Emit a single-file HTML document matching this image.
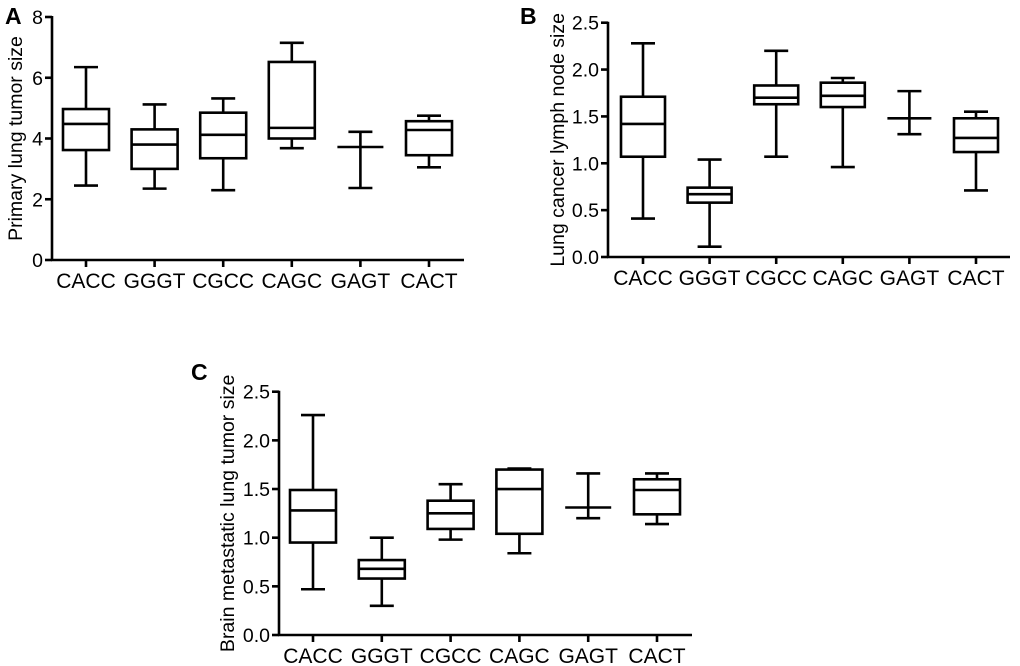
<!DOCTYPE html>
<html><head><meta charset="utf-8"><style>
body{margin:0;background:#fff;}
svg{display:block;font-family:"Liberation Sans",Arial,sans-serif;}
</style></head><body>
<svg id="chart" width="1020" height="666" viewBox="0 0 1020 666"></svg>
<script>
const categories = ["CACC","GGGT","CGCC","CAGC","GAGT","CACT"];
// each series: [whiskerLow, q1, median, q3, whiskerHigh]; q1/q3 null => no box
const seriesA = [[2.45,3.62,4.48,4.97,6.35],[2.35,3.0,3.8,4.3,5.12],[2.3,3.35,4.12,4.85,5.32],[3.68,4.0,4.35,6.52,7.15],[2.37,null,3.72,null,4.22],[3.05,3.45,4.28,4.57,4.75]];
const seriesB = [[0.41,1.07,1.42,1.71,2.28],[0.11,0.58,0.67,0.74,1.04],[1.07,1.63,1.7,1.83,2.2],[0.96,1.6,1.72,1.86,1.91],[1.31,null,1.48,null,1.77],[0.71,1.12,1.27,1.48,1.55]];
const seriesC = [[0.47,0.95,1.28,1.49,2.26],[0.3,0.58,0.68,0.77,1.0],[0.98,1.09,1.25,1.38,1.55],[0.84,1.04,1.5,1.7,1.71],[1.2,null,1.31,null,1.66],[1.14,1.24,1.49,1.6,1.66]];
const ticksA = [0,2,4,6,8];
const ticksB = [0.0,0.5,1.0,1.5,2.0,2.5];
const ticksC = [0.0,0.5,1.0,1.5,2.0,2.5];

const NS="http://www.w3.org/2000/svg";
const svg=document.getElementById('chart');
function mk(tag,attrs,parent,text){const e=document.createElementNS(NS,tag);for(const k in attrs)e.setAttribute(k,attrs[k]);if(text!==undefined)e.textContent=text;(parent||svg).appendChild(e);return e;}

function panel(cfg){
  const g=mk('g',{});
  
  
  const y=v=>cfg.y0-(v-cfg.vmin)/(cfg.vmax-cfg.vmin)*(cfg.y0-cfg.yTop);
  const x=i=>cfg.xFirst+i*cfg.dx;
  const sw=2.6;
  const L=mk('text',{x:cfg.lx,y:cfg.ly,'font-size':23,'font-weight':'bold'},g,cfg.letter);
  
  
  const ya=mk('line',{x1:cfg.ax,y1:y(cfg.vmax)-1,x2:cfg.ax,y2:cfg.y0+1,stroke:'#000','stroke-width':sw},g);
  
  
  const xa=mk('line',{x1:cfg.ax-1,y1:cfg.y0,x2:cfg.xEnd,y2:cfg.y0,stroke:'#000','stroke-width':sw},g);
  
  
  cfg.ticks.forEach(t=>{
    mk('line',{x1:cfg.ax-7,y1:y(t),x2:cfg.ax,y2:y(t),stroke:'#000','stroke-width':sw},g);
    const tl=mk('text',{x:cfg.ax-9,y:y(t)+7,'font-size':19.5,'text-anchor':'end'},g,cfg.fmt(t));
    
    
  });
  const yt=mk('text',{x:0,y:0,'font-size':19.5,'text-anchor':'middle',transform:`translate(${cfg.titleX},${(y(cfg.vmax)+cfg.y0)/2}) rotate(-90)`},g,cfg.title);
  
  
  categories.forEach((c,i)=>{
    const cx=x(i);
    mk('line',{x1:cx,y1:cfg.y0,x2:cx,y2:cfg.y0+7,stroke:'#000','stroke-width':sw},g);
    const cl=mk('text',{x:cx,y:cfg.y0+28,'font-size':21,'text-anchor':'middle'},g,c);
    
    
    const d=cfg.data[i];
    const bg=mk('g',{fill:'none',stroke:'#000','stroke-width':sw},g);
    
    
    const hw=cfg.hw, cw=12;
    if(d[1]!==null){
      mk('line',{x1:cx,y1:y(d[0]),x2:cx,y2:y(d[1])},bg);
      mk('line',{x1:cx,y1:y(d[3]),x2:cx,y2:y(d[4])},bg);
      mk('rect',{x:cx-hw,y:y(d[3]),width:2*hw,height:y(d[1])-y(d[3])},bg);
      mk('line',{x1:cx-hw,y1:y(d[2]),x2:cx+hw,y2:y(d[2])},bg);
    } else {
      mk('line',{x1:cx,y1:y(d[0]),x2:cx,y2:y(d[4])},bg);
      mk('line',{x1:cx-hw,y1:y(d[2]),x2:cx+hw,y2:y(d[2])},bg);
    }
    mk('line',{x1:cx-cw,y1:y(d[0]),x2:cx+cw,y2:y(d[0])},bg);
    mk('line',{x1:cx-cw,y1:y(d[4]),x2:cx+cw,y2:y(d[4])},bg);
  });
}
panel({letter:'A',lx:5,ly:24,ax:52,y0:260,yTop:17,vmin:0,vmax:8,xFirst:86,dx:68.6,xEnd:464,hw:23,ticks:ticksA,fmt:t=>String(t),data:seriesA,title:'Primary lung tumor size',titleX:22});
panel({letter:'B',lx:520,ly:24,ax:608,y0:257,yTop:22.7,vmin:0,vmax:2.5,xFirst:643,dx:66.6,xEnd:1010,hw:22,ticks:ticksB,fmt:t=>t.toFixed(1),data:seriesB,title:'Lung cancer lymph node size',titleX:564});
panel({letter:'C',lx:191,ly:380,ax:279,y0:635,yTop:391.7,vmin:0,vmax:2.5,xFirst:313,dx:68.8,xEnd:692,hw:23,ticks:ticksC,fmt:t=>t.toFixed(1),data:seriesC,title:'Brain metastatic lung tumor size',titleX:234});
</script>
</body></html>
